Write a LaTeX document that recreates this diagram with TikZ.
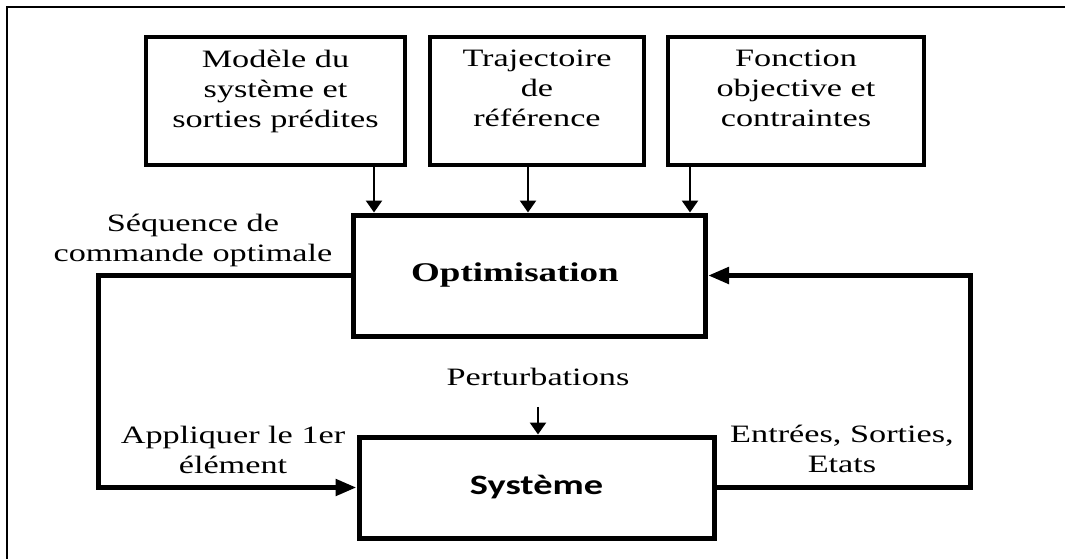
\documentclass[tikz,border=0pt]{standalone}
\usepackage{fontspec}
\setmainfont[FakeStretch=1.37]{Liberation Serif}
\newfontfamily\sysfont[FakeStretch=1.37]{Carlito}
\usepackage{tikz}
\usetikzlibrary{arrows.meta}

\begin{document}
\begin{tikzpicture}[x=1pt, y=-1pt, font=\fontsize{25}{30}\selectfont,
						boite/.style={draw, line width=3.8pt, minimum height=128pt, inner sep=0pt},
						bloc/.style={draw, line width=5pt, inner sep=0pt},
						texte/.style={align=center, inner sep=0pt},
						fleche/.style={line width=2.6pt, -{Triangle[length=12pt, width=16pt]}},
						boucle/.style={line width=5pt, -{Triangle[length=21pt, width=16pt]}}]
	\useasboundingbox (0,0) rectangle (1065,559);
	\draw[line width=2pt] (7,559) -- (7,7) -- (1065,7);
	% blocs d'entree
	\node[boite, minimum width=259pt] (modele) at (275.5,101) {};
	\node[boite, minimum width=214pt] (traj) at (537,101) {};
	\node[boite, minimum width=256pt] (fonction) at (796,101) {};
	\node[texte, anchor=north] (modeletxt) at (275.5,49.5) {Modèle du\\système et\\sorties prédites};
	\node[texte, anchor=north] (trajtxt) at (537,49.5) {Trajectoire\\de\\référence};
	\node[texte, anchor=north] (fonctiontxt) at (796,49.5) {Fonction\\objective et\\contraintes};
	% optimisation et systeme
	\node[bloc, minimum width=352pt, minimum height=121pt] (optim) at (529.5,275.5) {};
	\node[texte, font=\fontsize{27}{32}\selectfont\bfseries] (optimtxt) at (515,275.5) {Optimisation};
	\node[bloc, minimum width=355pt, minimum height=101pt, font=\sysfont\bfseries\fontsize{28}{32}\selectfont] (systeme) at (536.5,487.5) {Système};
	\coordinate (a1) at (374,0);
	\coordinate (a2) at (528,0);
	\coordinate (a3) at (690,0);
	\draw[fleche] (modele.south -| a1) -- (optim.north -| a1);
	\draw[fleche] (traj.south -| a2) -- (optim.north -| a2);
	\draw[fleche] (fonction.south -| a3) -- (optim.north -| a3);
	\node[texte] (perturb) at (538,377) {Perturbations};
	\draw[fleche] ([yshift=-21pt]perturb.south) -- (systeme.north -| perturb.south);
	% boucles
	\coordinate (g) at (98,0);
	\coordinate (d) at (970,0);
	\draw[boucle] (optim.west) -- (optim.west -| g) -- (systeme.west -| g) -- (systeme.west);
	\draw[boucle] (systeme.east) -- (systeme.east -| d) -- (optim.east -| d) -- (optim.east);
	\node[texte] (sequence) at (193,240.5) {Séquence de\\commande optimale};
	\node[texte] (appliquer) at (233,450) {Appliquer le 1er\\élément};
	\node[texte] (entrees) at (842,449) {Entrées, Sorties,\\Etats};
\end{tikzpicture}
\end{document}
